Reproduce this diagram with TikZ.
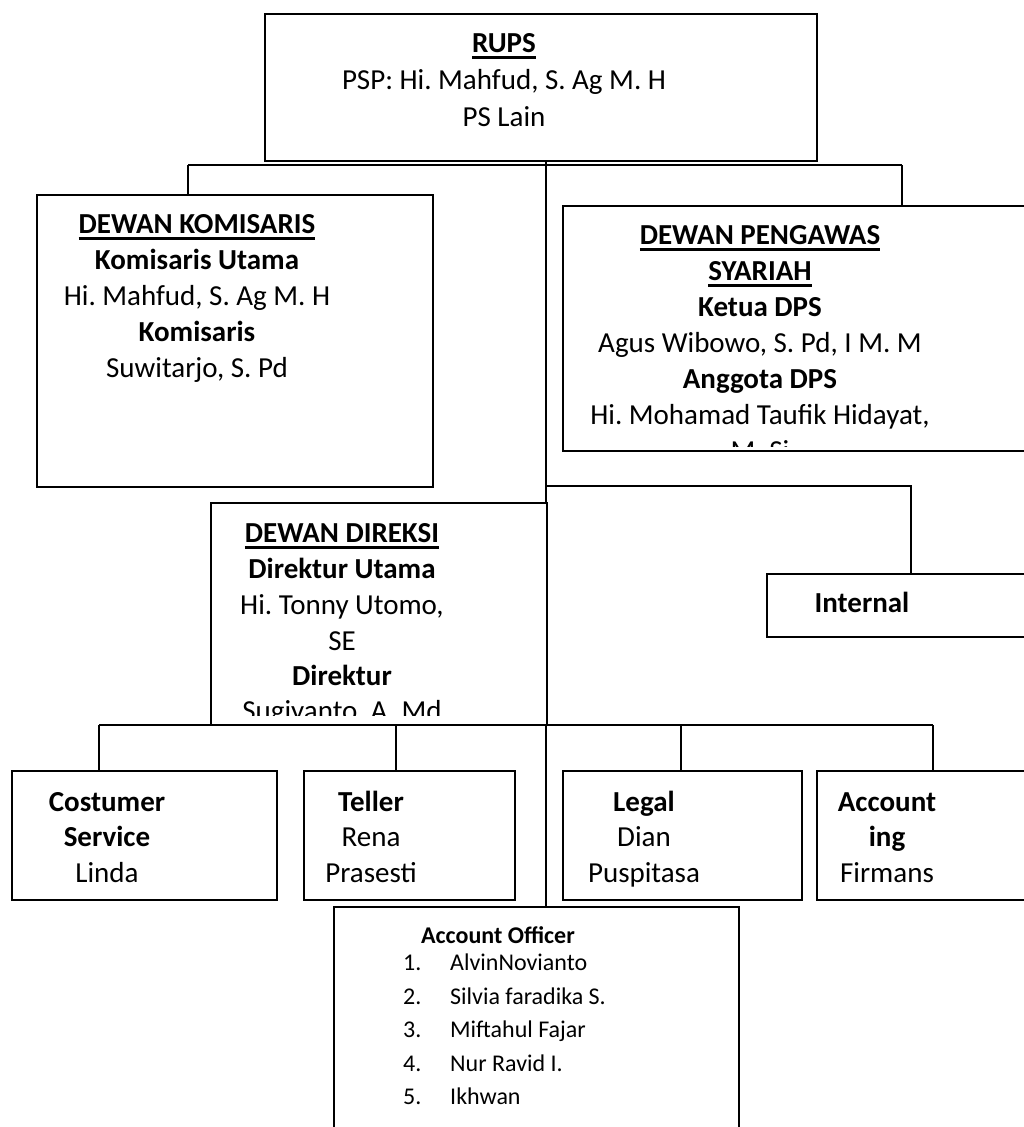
\documentclass[tikz,border=0pt]{standalone}
\usepackage{fontspec}
\setmainfont{Carlito}
\frenchspacing
\newcommand\ulbox[1]{\setbox0=\hbox{#1}\rlap{\rule[-6.5pt]{\wd0}{2.4pt}}\box0}
\begin{document}
\begin{tikzpicture}[x=1pt,y=-1pt,
  box/.style={draw, line width=2pt, inner sep=0pt, outer sep=0pt},
  conn/.style={line width=1.6pt},
  txt/.style={inner sep=0pt, anchor=base, font=\fontsize{29}{35}\selectfont},
  aotitle/.style={inner sep=0pt, anchor=base, font=\fontsize{24}{30}\selectfont\bfseries},
  aoitem/.style={inner sep=0pt, anchor=base west, font=\fontsize{24}{30}\selectfont}]
\useasboundingbox (0,0) rectangle (1024,1127);
\fill[white] (0,0) rectangle (1024,1127);
\clip (0,0) rectangle (1024,1127);

% boxes
\node[box, minimum width=552pt, minimum height=147pt] (rups) at (541,87.5) {};
\node[box, minimum width=396pt, minimum height=292pt] (kom) at (235,341) {};
\node[box, minimum width=477pt, minimum height=245pt] (dps) at (801.5,328.5) {};
\node[box, minimum width=336pt, minimum height=222pt] (dir) at (379,614) {};
\node[box, minimum width=273pt, minimum height=63pt] (intl) at (903.5,605.5) {};
\node[box, minimum width=265pt, minimum height=129pt] (cs) at (144.5,835.5) {};
\node[box, minimum width=211pt, minimum height=129pt] (tel) at (409.5,835.5) {};
\node[box, minimum width=239pt, minimum height=129pt] (leg) at (682.5,835.5) {};
\node[box, minimum width=223pt, minimum height=129pt] (acc) at (928.5,835.5) {};
\node[box, minimum width=405pt, minimum height=233pt] (ao) at (536.5,1023.5) {};

% connector points
\coordinate (busL) at (188,165);
\coordinate (busR) at (902,165);
\coordinate (busM) at (546,165);
\coordinate (midR) at (546,486);
\coordinate (intR) at (911,486);
\coordinate (botL) at (99,725);
\coordinate (botR) at (933,725);
\coordinate (botM) at (546,725);
\coordinate (botT) at (396,725);
\coordinate (botG) at (681,725);
\coordinate (thk) at (546,813);

% connectors
\draw[conn] (busL) -- (busR);
\draw[conn] (rups.south -| busM) -- (dir.north -| busM);
\draw[conn] (busL) -- (kom.north -| busL);
\draw[conn] (busR) -- (dps.north -| busR);
\draw[conn] (midR) -- (intR) -- (intl.north -| intR);
\draw[conn] (botL) -- (botR);
\draw[conn] (botM) -- (ao.north -| botM);
\draw[line width=2.8pt] (thk) -- (ao.north -| thk);
\draw[conn] (botL) -- (cs.north -| botL);
\draw[conn] (botT) -- (tel.north -| botT);
\draw[conn] (botG) -- (leg.north -| botG);
\draw[conn] (botR) -- (acc.north -| botR);

% RUPS text
\node[txt] (t-rups1) at (504,52) {\bfseries\ulbox{RUPS}};
\node[txt] (t-rups2) at (504,89) {PSP: Hi. Mahfud, S. Ag M. H};
\node[txt] (t-rups3) at (504,126) {PS Lain};

% Komisaris text
\node[txt] (t-kom1) at (197,233) {\bfseries\ulbox{DEWAN KOMISARIS}};
\node[txt] (t-kom2) at (197,269) {\bfseries Komisaris Utama};
\node[txt] (t-kom3) at (197,305) {Hi. Mahfud, S. Ag M. H};
\node[txt] (t-kom4) at (197,341) {\bfseries Komisaris};
\node[txt] (t-kom5) at (197,377) {Suwitarjo, S. Pd};

% DPS text (clipped by text box)
\begin{scope}
\clip (563,206) rectangle (1024,446);
\node[txt] (t-dps1) at (760,244) {\bfseries\ulbox{DEWAN PENGAWAS}};
\node[txt] (t-dps2) at (760,280) {\bfseries\ulbox{SYARIAH}};
\node[txt] (t-dps3) at (760,316) {\bfseries Ketua DPS};
\node[txt] (t-dps4) at (760,352) {Agus Wibowo, S. Pd, I M. M};
\node[txt] (t-dps5) at (760,388) {\bfseries Anggota DPS};
\node[txt] (t-dps6) at (760,424) {Hi. Mohamad Taufik Hidayat,};
\node[txt] (t-dps7) at (760,460) {M. Si};
\end{scope}

% Direksi text (clipped by text box)
\begin{scope}
\clip (211,503) rectangle (547,715);
\node[txt] (t-dir1) at (342,542) {\bfseries\ulbox{DEWAN DIREKSI}};
\node[txt] (t-dir2) at (342,578) {\bfseries Direktur Utama};
\node[txt] (t-dir3) at (342,614) {Hi. Tonny Utomo,};
\node[txt] (t-dir4) at (342,650) {SE};
\node[txt] (t-dir5) at (342,685) {\bfseries Direktur};
\node[txt] (t-dir6) at (342,720) {Sugiyanto, A. Md};
\end{scope}

% Internal
\node[txt] (t-int) at (862,612) {\bfseries Internal};

% bottom row
\node[txt] (t-cs1) at (107,811) {\bfseries Costumer};
\node[txt] (t-cs2) at (107,846) {\bfseries Service};
\node[txt] (t-cs3) at (107,882) {Linda};
\node[txt] (t-tel1) at (371,811) {\bfseries Teller};
\node[txt] (t-tel2) at (371,846) {Rena};
\node[txt] (t-tel3) at (371,882) {Prasesti};
\node[txt] (t-leg1) at (644,811) {\bfseries Legal};
\node[txt] (t-leg2) at (644,846) {Dian};
\node[txt] (t-leg3) at (644,882) {Puspitasa};
\node[txt] (t-acc1) at (887,811) {\bfseries Account};
\node[txt] (t-acc2) at (887,846) {\bfseries ing};
\node[txt] (t-acc3) at (887,882) {Firmans};

% Account Officer
\node[aotitle] (t-ao) at (498,943) {Account Officer};
\node[aoitem] (n1) at (403,970) {1.};
\node[aoitem] (a1) at (450,970) {AlvinNovianto};
\node[aoitem] (n2) at (403,1004) {2.};
\node[aoitem] (a2) at (450,1004) {Silvia faradika S.};
\node[aoitem] (n3) at (403,1037) {3.};
\node[aoitem] (a3) at (450,1037) {Miftahul Fajar};
\node[aoitem] (n4) at (403,1071) {4.};
\node[aoitem] (a4) at (450,1071) {Nur Ravid I.};
\node[aoitem] (n5) at (403,1104) {5.};
\node[aoitem] (a5) at (450,1104) {Ikhwan};
\end{tikzpicture}
\end{document}
